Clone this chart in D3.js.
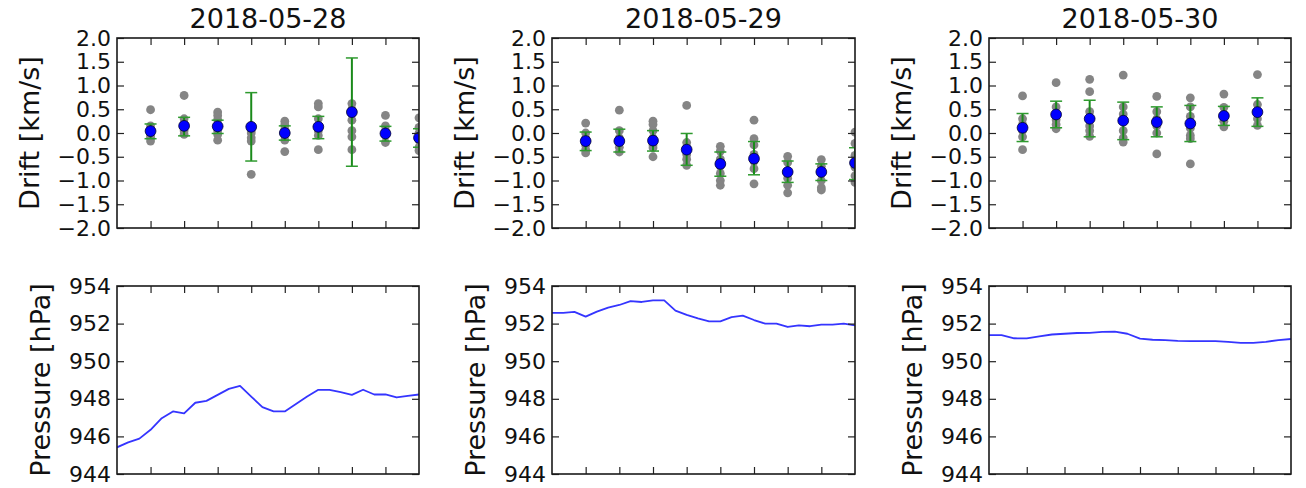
<!DOCTYPE html>
<html><head><meta charset="utf-8">
<script src="https://cdn.jsdelivr.net/npm/d3@7"></script>
<style>
body{margin:0;background:#fff}
text{font-family:"DejaVu Sans",sans-serif;fill:#111}
</style>
</head><body>
<svg id="c" width="1306" height="488"></svg>
<script>
// ---------- DATA ----------
const days = ["2018-05-28", "2018-05-29", "2018-05-30"];

const driftTicks = [-2, -1.5, -1, -0.5, 0, 0.5, 1, 1.5, 2];
const driftTickLabels = ["\u22122.0","\u22121.5","\u22121.0","\u22120.5","0.0","0.5","1.0","1.5","2.0"];
const pressureTicks = [944, 946, 948, 950, 952, 954];
const pressureTickLabels = ["944","946","948","950","952","954"];

// drift sample times (x units), per day
const driftTime28 = [1, 2, 3, 4, 5, 6, 7, 8, 9];
const driftTime29 = [1, 2, 3, 4, 5, 6, 7, 8, 9];
const driftTime30 = [1, 2, 3, 4, 5, 6, 7, 8];

// mean drift (blue)
const driftMean28 = [0.04, 0.15, 0.14, 0.13, 0.00, 0.13, 0.44, -0.01, -0.10];
const driftMean29 = [-0.17, -0.17, -0.16, -0.35, -0.65, -0.54, -0.82, -0.82, -0.63];
const driftMean30 = [0.11, 0.39, 0.30, 0.26, 0.23, 0.20, 0.36, 0.44];

// error bar low / high (green)
const driftLo28 = [-0.12, -0.06, -0.01, -0.59, -0.15, -0.12, -0.70, -0.17, -0.30];
const driftHi28 = [0.19, 0.33, 0.27, 0.85, 0.15, 0.35, 1.58, 0.14, 0.09];
const driftLo29 = [-0.37, -0.40, -0.38, -0.68, -0.91, -0.88, -1.04, -1.00, -0.98];
const driftHi29 = [0.02, 0.08, 0.05, -0.01, -0.40, -0.18, -0.59, -0.65, -0.31];
const driftLo30 = [-0.18, 0.11, -0.08, -0.14, -0.08, -0.18, 0.16, 0.14];
const driftHi30 = [0.41, 0.67, 0.69, 0.65, 0.55, 0.58, 0.56, 0.74];

// individual samples (gray)
const driftSamples28 = [
  [0.49, 0.15, 0.05, 0.0, -0.05, -0.10, -0.17],
  [0.79, 0.30, 0.20, 0.12, 0.05, -0.03],
  [0.44, 0.37, 0.28, 0.15, 0.05, -0.03, -0.15],
  [0.15, 0.05, 0.0, -0.10, -0.17, -0.87],
  [0.25, 0.17, 0.08, -0.05, -0.15, -0.39],
  [0.62, 0.55, 0.30, 0.15, 0.05, -0.05, -0.35],
  [0.62, 0.50, 0.40, 0.27, 0.05, -0.08, -0.35],
  [0.37, 0.15, 0.05, -0.05, -0.20],
  [0.32, 0.12, 0.0, -0.15, -0.30, -0.37]
];
const driftSamples29 = [
  [0.21, 0.0, -0.10, -0.25, -0.35, -0.42],
  [0.48, 0.05, -0.10, -0.20, -0.30, -0.40],
  [0.25, 0.18, 0.05, -0.10, -0.25, -0.31, -0.50],
  [0.58, -0.20, -0.30, -0.45, -0.55, -0.68],
  [-0.28, -0.38, -0.55, -0.70, -0.85, -1.00, -1.10],
  [0.27, -0.12, -0.25, -0.45, -0.60, -0.75, -1.07],
  [-0.49, -0.62, -0.80, -0.95, -1.10, -1.26],
  [-0.56, -0.70, -0.85, -1.00, -1.15, -1.20],
  [0.02, -0.22, -0.47, -0.72, -0.90, -1.04]
];
const driftSamples30 = [
  [0.78, 0.30, 0.18, 0.05, -0.08, -0.35],
  [1.06, 0.55, 0.40, 0.28, 0.18, 0.09],
  [1.13, 0.87, 0.45, 0.30, 0.15, 0.05, -0.07],
  [1.22, 0.55, 0.40, 0.25, 0.05, -0.10, -0.19],
  [0.77, 0.45, 0.30, 0.15, 0.0, -0.44],
  [0.74, 0.55, 0.35, 0.10, -0.05, -0.12, -0.65],
  [0.82, 0.54, 0.40, 0.25, 0.13],
  [1.23, 0.60, 0.45, 0.30, 0.16]
];

// pressure (hPa), sampled every third of an x unit
const pressure28 = [945.42, 945.68, 945.88, 946.35, 946.97, 947.33, 947.22, 947.79, 947.89, 948.21,
  948.53, 948.69, 948.12, 947.56, 947.33, 947.33, 947.72, 948.12, 948.48, 948.48,
  948.35, 948.21, 948.48, 948.23, 948.23, 948.07, 948.16, 948.23];
const pressure29 = [952.57, 952.57, 952.62, 952.37, 952.64, 952.85, 952.99, 953.20, 953.15, 953.24,
  953.24, 952.69, 952.46, 952.28, 952.12, 952.12, 952.34, 952.42, 952.19, 952.00,
  952.00, 951.82, 951.91, 951.86, 951.95, 951.95, 952.00, 951.91];
const pressure30 = [951.39, 951.39, 951.22, 951.21, 951.32, 951.42, 951.46, 951.50, 951.51, 951.56,
  951.57, 951.46, 951.20, 951.14, 951.12, 951.08, 951.07, 951.07, 951.07, 951.03,
  950.98, 950.97, 951.03, 951.12, 951.18];

// ---------- LAYOUT ----------
const svg = d3.select("#c");
const cols = [[117, 419], [552, 855], [989, 1291]];
const topRow = [38, 228], botRow = [286, 474];
const TICK = 7;

const driftSets = [
  {t: driftTime28, m: driftMean28, lo: driftLo28, hi: driftHi28, s: driftSamples28, xmax: 9},
  {t: driftTime29, m: driftMean29, lo: driftLo29, hi: driftHi29, s: driftSamples29, xmax: 9},
  {t: driftTime30, m: driftMean30, lo: driftLo30, hi: driftHi30, s: driftSamples30, xmax: 9}
];
const pressSets = [
  {v: pressure28, xmax: 9},
  {v: pressure29, xmax: 9},
  {v: pressure30, xmax: 8}
];

function frame(g, xs, ys, yTicks, yLabels, xTickVals, id) {
  const [x0, x1] = xs.range();
  const [y1, y0] = ys.range();
  const styleAxis = a => {
    a.select(".domain").remove();
    a.selectAll(".tick line").attr("stroke", "#222").attr("stroke-width", 1.2);
  };
  g.append("g").attr("transform", `translate(${x0},0)`)
    .call(d3.axisLeft(ys).tickValues(yTicks).tickSize(-TICK).tickPadding(6)
      .tickFormat((d, i) => yLabels[i]))
    .call(styleAxis)
    .call(a => a.selectAll("text").attr("font-size", 22).attr("fill", "#111")
      .attr("font-family", "DejaVu Sans"));
  g.append("g").attr("transform", `translate(${x1},0)`)
    .call(d3.axisRight(ys).tickValues(yTicks).tickSize(-TICK).tickFormat(""))
    .call(styleAxis);
  g.append("g").attr("transform", `translate(0,${y0})`)
    .call(d3.axisTop(xs).tickValues(xTickVals).tickSize(-TICK).tickFormat(""))
    .call(styleAxis);
  g.append("g").attr("transform", `translate(0,${y1})`)
    .call(d3.axisBottom(xs).tickValues(xTickVals).tickSize(-TICK).tickFormat(""))
    .call(styleAxis);
  g.append("rect").attr("x", x0).attr("y", y0).attr("width", x1 - x0).attr("height", y1 - y0)
    .attr("fill", "none").attr("stroke", "#1a1a1a").attr("stroke-width", 1.6);
}

function clip(id, xs, ys) {
  const [x0, x1] = xs.range();
  const [y1, y0] = ys.range();
  svg.append("clipPath").attr("id", id).append("rect")
    .attr("x", x0).attr("y", y0).attr("width", x1 - x0).attr("height", y1 - y0);
}

days.forEach((day, i) => {
  // ---- drift panel ----
  const D = driftSets[i];
  const xs = d3.scaleLinear().domain([0, D.xmax]).range(cols[i]);
  const ys = d3.scaleLinear().domain([-2, 2]).range([topRow[1], topRow[0]]);
  const g = svg.append("g");
  clip("cd" + i, xs, ys);
  const pg = g.append("g").attr("clip-path", `url(#cd${i})`);

  const samples = [];
  D.s.forEach((arr, j) => arr.forEach(v => samples.push({t: D.t[j], v})));
  pg.selectAll("circle.s").data(samples).join("circle")
    .attr("cx", d => xs(d.t)).attr("cy", d => ys(d.v)).attr("r", 4.4)
    .attr("fill", "#858585");

  const eb = pg.selectAll("g.eb").data(D.t.map((t, j) => ({t, lo: D.lo[j], hi: D.hi[j]}))).join("g");
  eb.append("line").attr("x1", d => xs(d.t)).attr("x2", d => xs(d.t))
    .attr("y1", d => ys(d.lo)).attr("y2", d => ys(d.hi))
    .attr("stroke", "#1a8a1a").attr("stroke-width", 2);
  ["lo", "hi"].forEach(k => eb.append("line")
    .attr("x1", d => xs(d.t) - 6).attr("x2", d => xs(d.t) + 6)
    .attr("y1", d => ys(d[k])).attr("y2", d => ys(d[k]))
    .attr("stroke", "#2e9a2e").attr("stroke-width", 1.5));

  pg.selectAll("circle.m").data(D.t.map((t, j) => ({t, v: D.m[j]}))).join("circle")
    .attr("cx", d => xs(d.t)).attr("cy", d => ys(d.v)).attr("r", 5.4)
    .attr("fill", "#0000ff").attr("stroke", "#000033").attr("stroke-width", 0.8);

  frame(g, xs, ys, driftTicks, driftTickLabels, d3.range(1, D.xmax), "d" + i);

  g.append("text").attr("x", (cols[i][0] + cols[i][1]) / 2).attr("y", 28)
    .attr("text-anchor", "middle").attr("font-size", 27).text(day);
  g.append("text").attr("transform", `translate(${cols[i][0] - 78},${(topRow[0] + topRow[1]) / 2}) rotate(-90)`)
    .attr("text-anchor", "middle").attr("font-size", 27).text("Drift [km/s]");

  // ---- pressure panel ----
  const P = pressSets[i];
  const xp = d3.scaleLinear().domain([0, P.xmax]).range(cols[i]);
  const yp = d3.scaleLinear().domain([944, 954]).range([botRow[1], botRow[0]]);
  const gp = svg.append("g");
  clip("cp" + i, xp, yp);
  const line = d3.line().x((d, k) => xp(k / 3)).y(d => yp(d));
  gp.append("g").attr("clip-path", `url(#cp${i})`).append("path")
    .datum(P.v).attr("d", line).attr("fill", "none")
    .attr("stroke", "#3535ff").attr("stroke-width", 1.8).attr("stroke-linejoin", "round");
  frame(gp, xp, yp, pressureTicks, pressureTickLabels, d3.range(1, P.xmax), "p" + i);
  gp.append("text").attr("transform", `translate(${cols[i][0] - 67},${(botRow[0] + botRow[1]) / 2}) rotate(-90)`)
    .attr("text-anchor", "middle").attr("font-size", 27).text("Pressure [hPa]");
});
</script>
</body></html>
